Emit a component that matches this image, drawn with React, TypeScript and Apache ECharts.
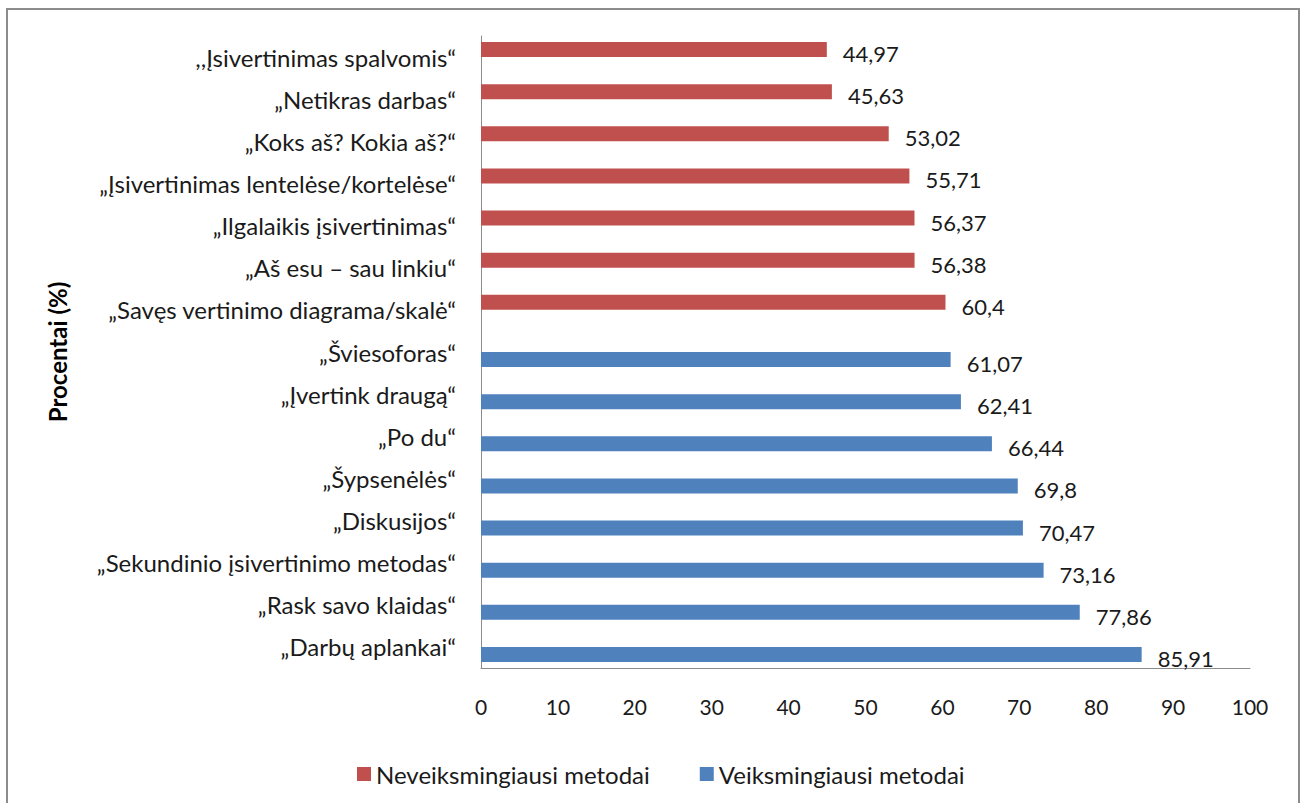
import React, { useEffect, useRef } from "react";
import * as echarts from "echarts";

const categories = [
  ",,\u012esivertinimas spalvomis\u201c",
  "\u201eNetikras darbas\u201c",
  "\u201eKoks a\u0161? Kokia a\u0161?\u201c",
  "\u201e\u012esivertinimas lentel\u0117se/kortel\u0117se\u201c",
  "\u201eIlgalaikis \u012fsivertinimas\u201c",
  "\u201eA\u0161 esu \u2013 sau linkiu\u201c",
  "\u201eSav\u0119s vertinimo diagrama/skal\u0117\u201c",
  "\u201e\u0160viesoforas\u201c",
  "\u201e\u012evertink draug\u0105\u201c",
  "\u201ePo du\u201c",
  "\u201e\u0160ypsen\u0117l\u0117s\u201c",
  "\u201eDiskusijos\u201c",
  "\u201eSekundinio \u012fsivertinimo metodas\u201c",
  "\u201eRask savo klaidas\u201c",
  "\u201eDarb\u0173 aplankai\u201c",
];

const leastEffective = [44.97, 45.63, 53.02, 55.71, 56.37, 56.38, 60.4, null, null, null, null, null, null, null, null];
const mostEffective = [null, null, null, null, null, null, null, 61.07, 62.41, 66.44, 69.8, 70.47, 73.16, 77.86, 85.91];
const seriesNames = ["Neveiksmingiausi metodai", "Veiksmingiausi metodai"];
const xTicks = { min: 0, max: 100, interval: 10 };

const FONT = "Lato";

export default function App() {
  const ref = useRef<HTMLDivElement>(null);
  useEffect(() => {
    document.body.style.margin = "0";
    const chart = echarts.init(ref.current!, undefined, { renderer: "svg" });
    const label = {
      show: true,
      position: "right",
      distance: 16,
      offset: [0, 4],
      fontFamily: FONT,
      fontSize: 22,
      color: "#1a1a1a",
      formatter: (p: any) => String(p.value).replace(".", ","),
    };
    chart.setOption({
      animation: false,
      textStyle: { fontFamily: FONT },
      graphic: [
        {
          type: "rect",
          shape: { x: 7, y: 9, width: 1292, height: 800 },
          style: { fill: "none", stroke: "#8c8c8c", lineWidth: 2 },
          silent: true,
        },
      ],
      legend: {
        left: 352,
        top: 757,
        itemWidth: 14,
        itemHeight: 14,
        itemGap: 50,
        icon: "rect",
        textStyle: { fontFamily: FONT, fontSize: 24, color: "#1a1a1a" },
        data: seriesNames,
      },
      grid: { left: 481, right: 55, top: 36, bottom: 135, containLabel: false },
      xAxis: {
        type: "value",
        min: xTicks.min,
        max: xTicks.max,
        interval: xTicks.interval,
        axisLine: { show: true, lineStyle: { color: "#8c8c8c", width: 1 } },
        axisTick: { show: false },
        splitLine: { show: false },
        axisLabel: { margin: 28, fontFamily: FONT, fontSize: 21, color: "#1a1a1a" },
      },
      yAxis: {
        type: "category",
        inverse: true,
        data: categories,
        axisLine: { show: true, lineStyle: { color: "#8c8c8c", width: 1 } },
        axisTick: { show: false },
        axisLabel: { margin: 25, fontFamily: FONT, fontSize: 24, color: "#1a1a1a" },
        name: "Procentai (%)",
        nameLocation: "middle",
        nameRotate: 90,
        nameGap: 412,
        nameTextStyle: { fontFamily: FONT, fontSize: 24, fontWeight: "bold", color: "#000" },
      },
      series: [
        {
          name: seriesNames[0],
          type: "bar",
          data: leastEffective,
          barWidth: 15,
          barGap: "0%",
          itemStyle: { color: "#C0504D" },
          label,
        },
        {
          name: seriesNames[1],
          type: "bar",
          data: mostEffective,
          barWidth: 15,
          barGap: "0%",
          itemStyle: { color: "#4F81BD" },
          label,
        },
      ],
    });
    return () => chart.dispose();
  }, []);
  return <div ref={ref} style={{ width: 1305, height: 803 }} />;
}
